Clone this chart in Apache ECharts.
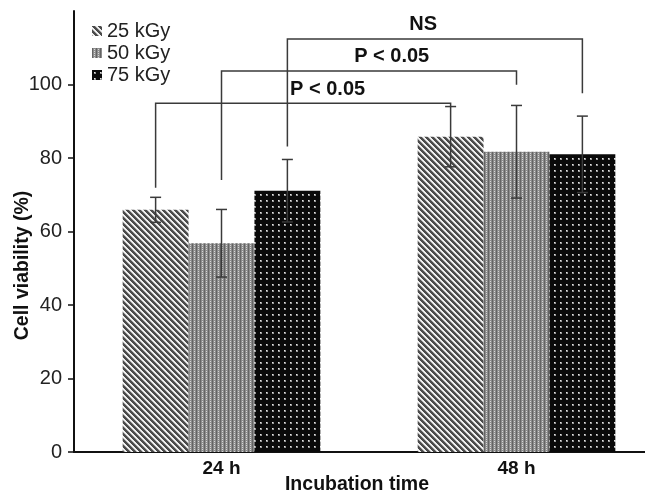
<!DOCTYPE html>
<html>
<head>
<meta charset="utf-8">
<title>Cell viability</title>
<script src="https://cdn.jsdelivr.net/npm/echarts@6/dist/echarts.min.js"></script>
<style>
    html, body { margin: 0; padding: 0; background: #fff; }
    #chart { width: 645px; height: 492px; }
</style>
</head>
<body>
<div id="chart"></div>
<script>
'use strict';

// 数据
var categories = ['24 h', '48 h'];
var doses = ['25 kGy', '50 kGy', '75 kGy'];
var mean25 = [65.9, 85.8];
var mean50 = [56.8, 81.7];
var mean75 = [71.1, 81.0];
var sd25 = [3.4, 8.2];
var sd50 = [9.2, 12.6];
var sd75 = [8.5, 10.4];
var yTicks = [0, 20, 40, 60, 80, 100];

// 显著性标注: [类别, 剂量序号]
var bracketFrom = [[0, 0], [0, 1], [0, 2]];
var bracketTo = [[1, 0], [1, 1], [1, 2]];
var bracketLevel = [94.9, 103.7, 112.4];
var bracketLeftEnd = [71.9, 74.0, 83.1];
var bracketRightEnd = [94.0, 99.9, 97.6];
var bracketLabels = ['P < 0.05', 'P < 0.05', 'NS'];

var FONT = '"Liberation Sans", Arial, sans-serif',
    CAT_GAP = 0.33, // barCategoryGap
    LINE = '#3a3a3a';

// 图案填充
var makePattern = function(w, h, fn) {
    var c = document.createElement('canvas');
    c.width = w;
    c.height = h;
    var ctx = c.getContext('2d'),
        img = ctx.createImageData(w, h);
    for (var y = 0; y < h; y++) {
        for (var x = 0; x < w; x++) {
            var g = fn(x, y), k = (y * w + x) * 4;
            img.data[k] = img.data[k + 1] = img.data[k + 2] = g;
            img.data[k + 3] = 255;
        }
    }
    ctx.putImageData(img, 0, 0);
    return { image: c, repeat: 'repeat' };
};

var pattern25 = makePattern(6, 6, function(x, y) {
    var d = ((x - y) % 6 + 6) % 6;
    return d < 3 ? 75 : (d === 3 ? 170 : 240);
});
var pattern50 = makePattern(4, 4, function(x, y) {
    if (x === 0) return 100;
    if (x === 2 && y % 2 === 1) return 215;
    return 140;
});
var pattern75 = makePattern(6, 6, function(x, y) {
    if ((x === 2 || x === 3) && (y === 2 || y === 3)) return (x === 2 && y === 2) ? 230 : 150;
    return 10;
});

// 柱子相对类别中心的偏移
var barOffset = function(bandWidth, idx) {
    var groupW = bandWidth * (1 - CAT_GAP),
        barW = groupW / doses.length;
    return -groupW / 2 + barW * (idx + 0.5);
};

var errorData = function(mean, sd) {
    return mean.map(function(m, i) {
        return [i, m - sd[i], m + sd[i]];
    });
};

var errorSeries = function(idx, mean, sd) {
    return {
        type: 'custom',
        silent: true,
        z: 5,
        encode: { x: 0, y: [1, 2] },
        data: errorData(mean, sd),
        renderItem: function(params, api) {
            var cat = api.value(0),
                band = api.size([1, 0])[0],
                x = api.coord([cat, 0])[0] + barOffset(band, idx),
                yLo = api.coord([cat, api.value(1)])[1],
                yHi = api.coord([cat, api.value(2)])[1],
                cap = 5.5,
                style = { stroke: LINE, lineWidth: 1.5 };
            return {
                type: 'group',
                children: [
                    { type: 'line', shape: { x1: x, y1: yLo, x2: x, y2: yHi }, style: style },
                    { type: 'line', shape: { x1: x - cap, y1: yHi, x2: x + cap, y2: yHi }, style: style },
                    { type: 'line', shape: { x1: x - cap, y1: yLo, x2: x + cap, y2: yLo }, style: style }
                ]
            };
        }
    };
};

var labelPos = [0.583, 0.577, 0.46]; // 标注文字在横线上的位置比例

var bracketSeries = {
    type: 'custom',
    silent: true,
    z: 5,
    data: bracketLevel.map(function(v, i) {
        return [bracketFrom[i][0], v, bracketLeftEnd[i], bracketRightEnd[i], i];
    }),
    renderItem: function(params, api) {
        var i = api.value(4),
            band = api.size([1, 0])[0],
            x1 = api.coord([bracketFrom[i][0], 0])[0] + barOffset(band, bracketFrom[i][1]),
            x2 = api.coord([bracketTo[i][0], 0])[0] + barOffset(band, bracketTo[i][1]),
            yTop = api.coord([0, api.value(1)])[1],
            yL = api.coord([0, api.value(2)])[1],
            yR = api.coord([0, api.value(3)])[1],
            style = { stroke: LINE, lineWidth: 1.5, fill: null };
        return {
            type: 'group',
            children: [
                { type: 'polyline', shape: { points: [[x1, yL], [x1, yTop], [x2, yTop], [x2, yR]] }, style: style },
                {
                    type: 'text',
                    style: {
                        text: bracketLabels[i],
                        x: x1 + (x2 - x1) * labelPos[i],
                        y: yTop - 14,
                        textAlign: 'center',
                        textVerticalAlign: 'middle',
                        font: 'bold 20px ' + FONT,
                        fill: '#111'
                    }
                }
            ]
        };
    }
};

var barSeries = function(name, data, color) {
    return {
        name: name,
        type: 'bar',
        data: data,
        barGap: '0%',
        barCategoryGap: (CAT_GAP * 100) + '%',
        itemStyle: { color: color },
        emphasis: { disabled: true }
    };
};

var chart = echarts.init(document.getElementById('chart'), null, { renderer: 'canvas' });

chart.setOption({
    animation: false,
    backgroundColor: '#fff',
    textStyle: { fontFamily: FONT },
    grid: {
        left: 74,
        right: -19,
        top: 11,
        bottom: 40,
        containLabel: false,
        outerBoundsMode: 'none'
    },
    legend: {
        data: doses,
        orient: 'vertical',
        left: 92,
        top: 21,
        itemWidth: 10,
        itemHeight: 10,
        itemGap: 2,
        icon: 'rect',
        padding: 0,
        selectedMode: false,
        textStyle: { fontSize: 20, color: '#222', fontFamily: FONT }
    },
    xAxis: {
        type: 'category',
        data: categories,
        axisTick: { show: false },
        axisLine: { lineStyle: { color: '#111', width: 2 } },
        axisLabel: { fontSize: 19, fontWeight: 'bold', color: '#111', margin: 7 },
        name: 'Incubation time',
        nameLocation: 'middle',
        nameGap: 23,
        nameMoveOverlap: false,
        nameTextStyle: { fontSize: 19.5, fontWeight: 'bold', color: '#111', padding: [0, 24, 0, 0] }
    },
    yAxis: {
        type: 'value',
        min: 0,
        max: 120,
        interval: 20,
        splitLine: { show: false },
        axisLine: { show: true, lineStyle: { color: '#111', width: 2 } },
        axisTick: { show: true, length: 6, customValues: yTicks, lineStyle: { color: '#111', width: 1.5 } },
        axisLabel: { customValues: yTicks, fontSize: 20, color: '#222', margin: 12 },
        name: 'Cell viability (%)',
        nameLocation: 'middle',
        nameGap: 41,
        nameMoveOverlap: false,
        nameTextStyle: { fontSize: 19.5, fontWeight: 'bold', color: '#111', padding: [0, 68, 0, 0] }
    },
    series: [
        barSeries(doses[0], mean25, pattern25),
        barSeries(doses[1], mean50, pattern50),
        barSeries(doses[2], mean75, pattern75),
        errorSeries(0, mean25, sd25),
        errorSeries(1, mean50, sd50),
        errorSeries(2, mean75, sd75),
        bracketSeries
    ]
});
</script>
</body>
</html>
